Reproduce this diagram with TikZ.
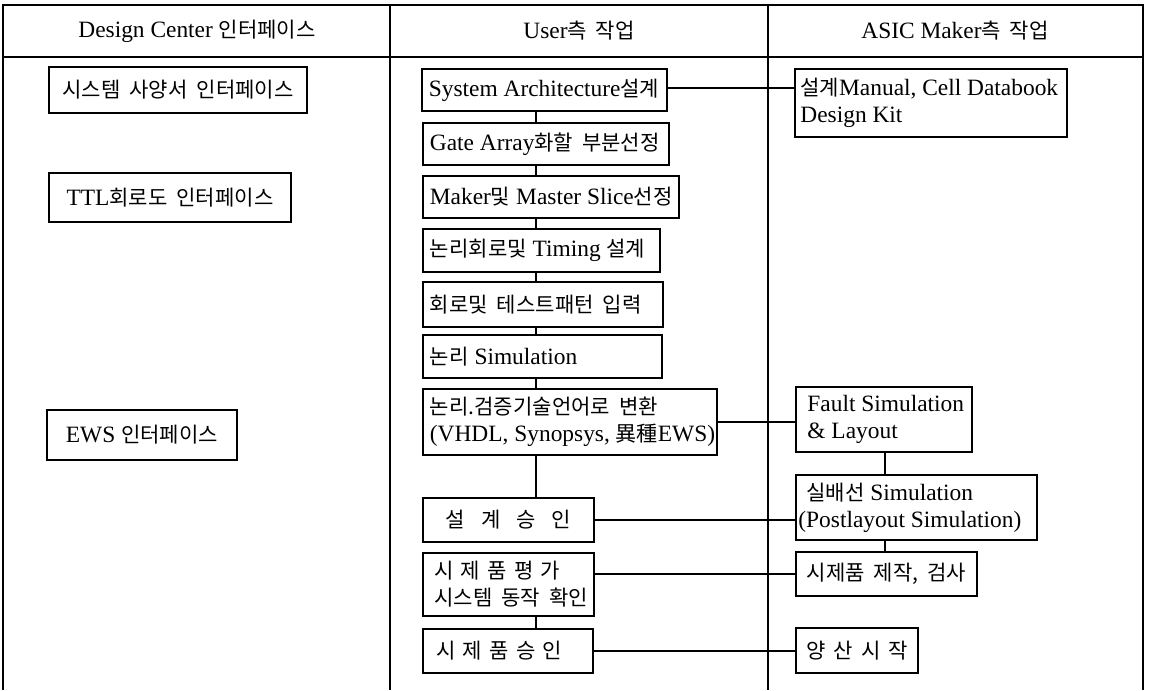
\documentclass[tikz,border=0pt]{standalone}
\usepackage{fontspec}
\setmainfont{Liberation Serif}
\newfontfamily\krf{Noto Sans CJK KR}[Scale=0.9,WordSpace=1.9]
\newcommand\kr[1]{{\krf #1}}
\newcommand\ksp{\hspace{3.6pt}}
% left-aligned text box
\newcommand\kbox[7][3.25pt]{%
  \pgfmathsetmacro\kbw{(#5-#3)*0.5}%
  \pgfmathsetmacro\kbh{(#6-#4)*0.5}%
  \node[box, minimum width=\kbw pt, minimum height=\kbh pt] (#2) at (#3,#4) {};
  \node[btext, anchor=west] (#2-t) at ([xshift=#1]#2.west) {#7};}
% centred text box
\newcommand\cbox[6]{%
  \pgfmathsetmacro\kbw{(#4-#2)*0.5}%
  \pgfmathsetmacro\kbh{(#5-#3)*0.5}%
  \node[box, minimum width=\kbw pt, minimum height=\kbh pt] (#1) at (#2,#3) {};
  \node[btext, align=center] (#1-t) at (#1.center) {#6};}
\begin{document}
\begin{tikzpicture}[x=0.5pt,y=-0.5pt,
  frame/.style={line width=0.8pt, black},
  box/.style={draw, line width=0.8pt, anchor=north west, inner sep=0pt, outer sep=0pt},
  btext/.style={inner sep=0pt, align=left, font=\fontsize{11.7}{13.5}\selectfont},
  conn/.style={line width=0.8pt},
  head/.style={font=\fontsize{11.7}{13.5}\selectfont}]
\useasboundingbox (0,0) rectangle (1149,690);
% table lines
\draw[frame] (3,690) -- (3,5) -- (1143,5) -- (1143,690);
\draw[frame] (3,57) -- (1143,57);
\draw[frame] (390,5) -- (390,690);
\draw[frame] (768,5) -- (768,690);
% headers
\node[head] (h1) at (197,31) {Design Center \kr{인터페이스}};
\node[head] (h2) at (579,31) {User\kr{측 작업}};
\node[head] (h3) at (955,31) {ASIC Maker\kr{측 작업}};
% column 1
\cbox{c1}{49}{67}{307}{113}{\kr{시스템 사양서 인터페이스}}
\cbox{c2}{49}{173}{291}{222}{TTL\kr{회로도 인터페이스}}
\cbox{c3}{47}{410}{237}{460}{EWS \kr{인터페이스}}
% column 2
\kbox{sa}{422}{69}{667}{111}{System Architecture\kr{설계}}
\kbox{ga}{423}{123}{669}{165}{Gate Array\kr{화할 부분선정}}
\kbox{ms}{423}{176}{679}{218}{Maker\kr{및} Master Slice\kr{선정}}
\kbox{lt}{423}{229}{660}{272}{\kr{논리회로및} Timing \kr{설계}}
\kbox{hr}{423}{282}{663}{327}{\kr{회로및 테스트패턴 입력}}
\kbox{ls}{423}{335}{662}{378}{\kr{논리} Simulation}
\kbox{lv}{423}{389}{717}{455}{\kr{논리.검증기술언어로 변환}\\(VHDL, Synopsys, \kr{異種}EWS)}
\cbox{ap}{423}{498}{594}{542}{\kr{설\hspace{8pt}계\hspace{8pt}승\hspace{8pt}인}}
\kbox[5.5pt]{pe}{423}{553}{594}{616}{\kr{시\ksp 제\ksp 품\ksp 평\ksp 가}\\\kr{시스템 동작 확인}}
\kbox[6.5pt]{pa}{423}{629}{593}{673}{\kr{시\ksp 제\ksp 품\ksp 승\ksp 인}}
% column 3
\kbox[2.5pt]{dm}{795}{69}{1067}{137}{\kr{설계}Manual, Cell Databook\\Design Kit}
\kbox[5.5pt]{fs}{796}{387}{972}{452}{Fault Simulation\\\& Layout}
\kbox[1pt]{rs}{796}{475}{1037}{540}{\hspace*{4pt}\kr{실배선} Simulation\\(Postlayout Simulation)}
\cbox{pm}{796}{552}{977}{596}{\kr{시제품 제작, 검사}}
\cbox{mp}{796}{628}{918}{673}{\kr{양\hspace{4pt}산\hspace{4pt}시\hspace{4pt}작}}
% connectors
\coordinate (vx) at (536,0);
\coordinate (vy) at (885,0);
\draw[conn] (sa.south -| vx) -- (ga.north -| vx);
\draw[conn] (ga.south -| vx) -- (ms.north -| vx);
\draw[conn] (ms.south -| vx) -- (lt.north -| vx);
\draw[conn] (lt.south -| vx) -- (hr.north -| vx);
\draw[conn] (hr.south -| vx) -- (ls.north -| vx);
\draw[conn] (ls.south -| vx) -- (lv.north -| vx);
\draw[conn] (lv.south -| vx) -- (ap.north -| vx);
\draw[conn] (pe.south -| vx) -- (pa.north -| vx);
\draw[conn] (fs.south -| vy) -- (rs.north -| vy);
\draw[conn] (rs.south -| vy) -- (pm.north -| vy);
\draw[conn] ([yshift=1pt]sa.east) -- ([yshift=1pt]sa.east -| dm.west);
\draw[conn] (lv.east) -- (lv.east -| fs.west);
\draw[conn] (ap.east) -- (ap.east -| rs.west);
\draw[conn] (pe.east |- pm.west) -- (pm.west);
\draw[conn] (pa.east) -- (pa.east -| mp.west);
\end{tikzpicture}
\end{document}
